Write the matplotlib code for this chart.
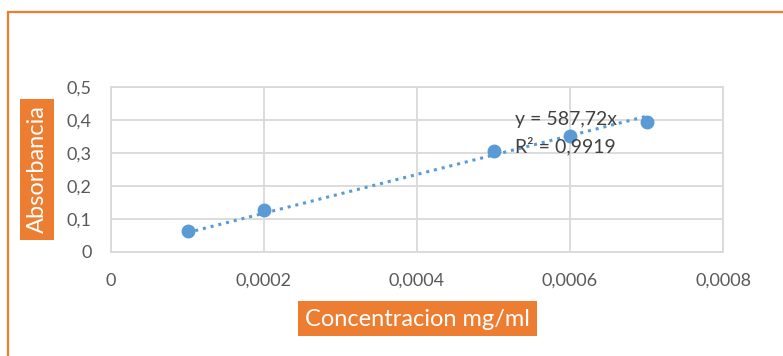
import numpy as np
import matplotlib
matplotlib.use('Agg')
import matplotlib.pyplot as plt
from matplotlib.patches import Rectangle
from matplotlib.ticker import FuncFormatter

# data
conc = [0.0001, 0.0002, 0.0005, 0.0006, 0.0007]
absorb = [0.064, 0.127, 0.306, 0.352, 0.394]
slope = 587.72
r2 = 0.9919

xticks = [0, 0.0002, 0.0004, 0.0006, 0.0008]
yticks = [0, 0.1, 0.2, 0.3, 0.4, 0.5]

blue = '#5B9BD5'
orange = '#ED7D31'
grid = '#D9D9D9'
txt = '#595959'

plt.rcParams['font.family'] = ['Lato', 'DejaVu Sans']

W, H = 783, 356
fig = plt.figure(figsize=(W / 100, H / 100), dpi=100)

def px(x0, y0, x1, y1):
    # pixel box (top-left origin) -> figure fraction rect
    return [x0 / W, 1 - y1 / H, (x1 - x0) / W, (y1 - y0) / H]

ax = fig.add_axes(px(111, 87, 723, 252))

x_fit = np.array([conc[0], conc[-1]])
ax.plot(x_fit, slope * x_fit, linestyle=(0, (1, 1.6)), color=blue, lw=2.2, zorder=2)
ax.plot(conc, absorb, linestyle='none', marker='o', ms=9, color=blue, zorder=3)

ax.set_xlim(0, 0.0008)
ax.set_ylim(0, 0.5)
ax.set_xticks(xticks)
ax.set_yticks(yticks)
ax.xaxis.set_major_formatter(FuncFormatter(lambda v, p: '0' if v == 0 else ('%.4f' % v).replace('.', ',')))
ax.yaxis.set_major_formatter(FuncFormatter(lambda v, p: '0' if v == 0 else ('%.1f' % v).replace('.', ',')))
ax.tick_params(length=0, labelsize=13, labelcolor=txt)
ax.tick_params(axis='x', pad=15)
ax.tick_params(axis='y', pad=14)
ax.grid(True, color=grid, lw=1.3)
ax.set_axisbelow(True)
for s in ax.spines.values():
    s.set_color(grid)
    s.set_linewidth(1.3)

ax.text(0.000528, 0.4, 'y = 587,72x', fontsize=14, color='#404040', va='center', ha='left')
ax.text(0.000528, 0.322, 'R² = 0,9919', fontsize=14, color='#404040', va='center', ha='left')

# orange chart border (cut at right and bottom)
fig.patches.append(Rectangle((8 / W, -0.05), 1.0, 1 - 12 / H + 0.05, transform=fig.transFigure,
                             fill=False, edgecolor=orange, lw=1.6))

# axis title boxes
r = px(20, 99, 54, 240)
fig.patches.append(Rectangle((r[0], r[1]), r[2], r[3], transform=fig.transFigure,
                             facecolor=orange, edgecolor='none'))
fig.text(r[0] + r[2] / 2 + 0.001, r[1] + r[3] / 2, 'Absorbancia', rotation=90, color='white',
         fontsize=17, ha='center', va='center')

r = px(298, 301, 537, 336)
fig.patches.append(Rectangle((r[0], r[1]), r[2], r[3], transform=fig.transFigure,
                             facecolor=orange, edgecolor='none'))
fig.text(r[0] + r[2] / 2, r[1] + r[3] / 2 - 0.004, 'Concentracion mg/ml', color='white',
         fontsize=17, ha='center', va='center')

fig.savefig('out.png', dpi=100, facecolor='white')
